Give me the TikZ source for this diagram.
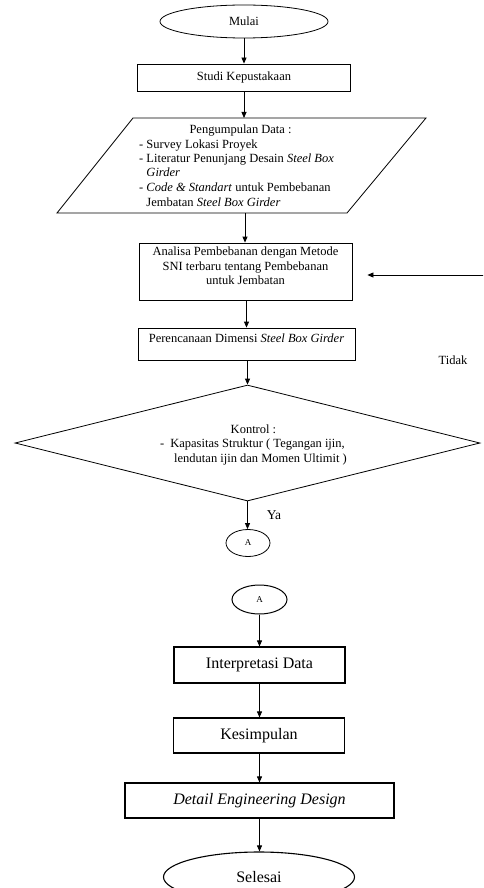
\documentclass[tikz,border=0pt]{standalone}
\usepackage{fontspec}
\setmainfont{Liberation Serif}
\usetikzlibrary{shapes.geometric,arrows.meta,calc}
\begin{document}
\begin{tikzpicture}[x=1pt,y=-1pt,
  every node/.style={font=\fontsize{12.5}{14.5}\selectfont},
  thinbox/.style={draw, line width=0.8pt, inner sep=0pt, align=center},
  thickbox/.style={draw, line width=1.1pt, inner sep=0pt, align=center, font=\fontsize{16}{19}\selectfont},
  oval/.style={ellipse, draw, inner sep=0pt},
  arr/.style={-{Triangle[length=6pt,width=5pt]}, line width=0.8pt},
  lbl/.style={inner sep=0pt}
]
\useasboundingbox (0,0) rectangle (483,888);
\clip (0,0) rectangle (483,888);

% upper column
\node[oval, line width=0.8pt, minimum width=168pt, minimum height=33pt] (mulai) at (244,21.5) {Mulai};
\node[thinbox, minimum width=213pt, minimum height=27pt] (studi) at (244,77.5) {Studi Kepustakaan};

% parallelogram
\coordinate (ptl) at (133,118);
\coordinate (ptr) at (426,118);
\coordinate (pbr) at (347,213);
\coordinate (pbl) at (57,213);
\draw[line width=0.8pt] (ptl) -- (ptr) -- (pbr) -- (pbl) -- cycle;
\coordinate (dtop) at (244,118);
\coordinate (dbot) at (245,213);
\node[lbl, anchor=base west] (data) at (139,133.5) {\begin{tabular}[t]{@{}l@{}}
\multicolumn{1}{@{}c@{}}{\hspace*{8pt}Pengumpulan Data :}\\
- Survey Lokasi Proyek\\
- Literatur Penunjang Desain \textit{Steel Box}\\
\phantom{- }\textit{Girder}\\
- \textit{Code \& Standart} untuk Pembebanan\\
\phantom{- }Jembatan \textit{Steel Box Girder}
\end{tabular}};

\node[thinbox, minimum width=213pt, minimum height=57pt, text depth=11pt] (ana) at (245.5,271.5)
  {Analisa Pembebanan dengan Metode\\SNI terbaru tentang Pembebanan\\untuk Jembatan};
\node[thinbox, minimum width=217pt, minimum height=32pt, text depth=12pt] (peren) at (246.5,344)
  {Perencanaan Dimensi \textit{Steel Box Girder}};

\node[lbl] (tidak) at (453,360) {Tidak};

\node[diamond, draw, line width=0.8pt, minimum width=465pt, minimum height=116pt, inner sep=0pt, aspect=4] (ctl) at (247.5,443) {};
\node[lbl, anchor=base west] (ctltext) at (160,433) {\begin{tabular}[t]{@{}l@{}}
\multicolumn{1}{@{}c@{}}{Kontrol :}\\
-\hspace{6pt}Kapasitas Struktur ( Tegangan ijin,\\
\hspace*{14pt}lendutan ijin dan Momen Ultimit )
\end{tabular}};

\node[lbl, font=\fontsize{13.5}{16}\selectfont] (ya) at (274,515) {Ya};
\node[oval, line width=0.8pt, minimum width=44pt, minimum height=27pt, font=\fontsize{9}{10}\selectfont] (a1) at (248,543) {A};

% lower column
\node[oval, line width=1pt, minimum width=55pt, minimum height=29pt, font=\fontsize{9}{10}\selectfont] (a2) at (259.5,599.5) {A};
\node[thickbox, minimum width=171pt, minimum height=36pt] (interp) at (259.5,665) {Interpretasi Data};
\node[thickbox, minimum width=171pt, minimum height=35pt] (kes) at (259,735.5) {Kesimpulan};
\node[thickbox, minimum width=269pt, minimum height=35pt] (ded) at (259.5,800.5) {\textit{Detail Engineering Design}};
\node[oval, line width=1.1pt, minimum width=191pt, minimum height=50pt, font=\fontsize{16}{19}\selectfont] (sel) at (259,877) {Selesai};

% connectors
\draw[arr] (mulai.south) -- (studi.north);
\draw[arr] (studi.south) -- (dtop);
\draw[arr] (dbot) -- (dbot |- ana.north);
\draw[arr] (ana.south -| peren.north) -- (peren.north);
\draw[arr] (peren.south -| ctl.north) -- (ctl.north);
\draw[arr] (ctl.south) -- (ctl.south |- a1.north);
\draw[arr] (a2.south) -- (interp.north);
\draw[arr] (interp.south) -- (interp.south |- kes.north);
\draw[arr] (kes.south -| interp.south) -- (interp.south |- ded.north);
\draw[arr] (ded.south) -- (ded.south |- sel.north);
\coordinate (fbk) at (490,275);
\draw[arr, shorten >=15pt] (fbk) -- (fbk -| ana.east);
\end{tikzpicture}
\end{document}
